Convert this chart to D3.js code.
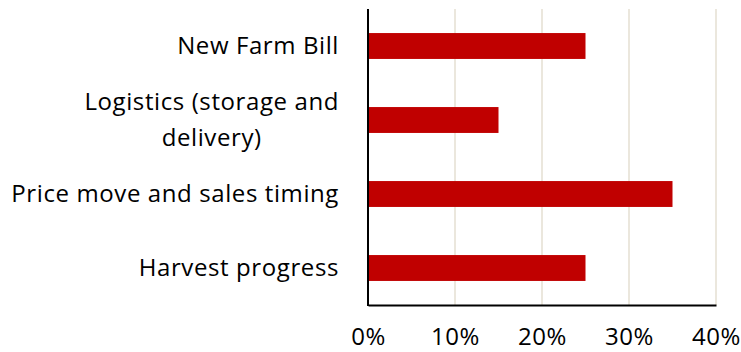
<!DOCTYPE html>
<html>
<head>
<meta charset="utf-8">
<script src="https://cdn.jsdelivr.net/npm/d3@7"></script>
<style>
  body { margin: 0; background: #fff; }
  text { font-family: "Open Sans", sans-serif; fill: #000; letter-spacing: 0.6px; }
</style>
</head>
<body>
<div id="chart"></div>
<script>
var categories = ["New Farm Bill", "Logistics (storage and delivery)", "Price move and sales timing", "Harvest progress"];
var labelLines = [["New Farm Bill"], ["Logistics (storage and", "delivery)"], ["Price move and sales timing"], ["Harvest progress"]];
var values = [0.25, 0.15, 0.35, 0.25];
var ticks = [0, 0.1, 0.2, 0.3, 0.4];

var fullWidth = 741, fullHeight = 352;
var margin = {top: 9, right: 25, bottom: 47, left: 368};
var width = fullWidth - margin.left - margin.right,
    height = fullHeight - margin.top - margin.bottom;
var fontSize = 24;

var svg = d3.select("#chart").append("svg")
    .attr("width", fullWidth)
    .attr("height", fullHeight);

var g = svg.append("g")
    .attr("transform", "translate(" + margin.left + "," + margin.top + ")");

var x = d3.scaleLinear().domain([0, 0.4]).range([0, width]);
var y = d3.scaleBand().domain(categories).range([0, height]).paddingInner(0.65).paddingOuter(0.325);

// gridlines
g.selectAll(".grid")
    .data(ticks.slice(1))
    .enter().append("line")
    .attr("class", "grid")
    .attr("x1", x).attr("x2", x)
    .attr("y1", 0).attr("y2", height)
    .attr("stroke", "#ebe7dd")
    .attr("stroke-width", 2);

g.selectAll(".bar")
    .data(values)
    .enter().append("rect")
    .attr("class", "bar")
    .attr("x", 0)
    .attr("y", function(d, i) { return y(categories[i]); })
    .attr("width", function(d) { return x(d); })
    .attr("height", y.bandwidth())
    .attr("fill", "#c00000");

// x axis
var xAxis = g.append("g")
    .attr("transform", "translate(0," + height + ")")
    .call(d3.axisBottom(x).tickValues(ticks).tickFormat(d3.format(".0%")).tickSize(0));
xAxis.select(".domain").attr("stroke", "#000").attr("stroke-width", 2);
xAxis.selectAll("text")
    .attr("y", 40).attr("dy", 0)
    .style("font-size", fontSize + "px").attr("fill", "#000");

// y axis line
g.append("line")
    .attr("x1", 0).attr("x2", 0)
    .attr("y1", 0).attr("y2", height + 1)
    .attr("stroke", "#000").attr("stroke-width", 2);

// category labels
var labels = g.selectAll(".cat")
    .data(labelLines)
    .enter().append("text")
    .attr("class", "cat")
    .style("font-size", fontSize + "px")
    .attr("transform", function(d, i) {
        return "translate(-29," + (y(categories[i]) + y.bandwidth() / 2) + ")";
    });

labels.each(function(lines) {
    var t = d3.select(this);
    var n = lines.length;
    if (n === 1) {
        t.append("tspan").attr("x", 0).attr("dy", "0.35em").attr("text-anchor", "end").text(lines[0]);
    } else {
        t.attr("text-anchor", "middle");
        lines.forEach(function(line, k) {
            t.append("tspan").attr("x", 0)
                .attr("y", (k - (n - 1) / 2) * 36)
                .attr("dy", "0.35em")
                .text(line);
        });
        // centre the lines under the widest one
        var maxW = 0;
        t.selectAll("tspan").each(function() { maxW = Math.max(maxW, this.getComputedTextLength()); });
        t.selectAll("tspan").attr("x", -maxW / 2);
    }
});
</script>
</body>
</html>
